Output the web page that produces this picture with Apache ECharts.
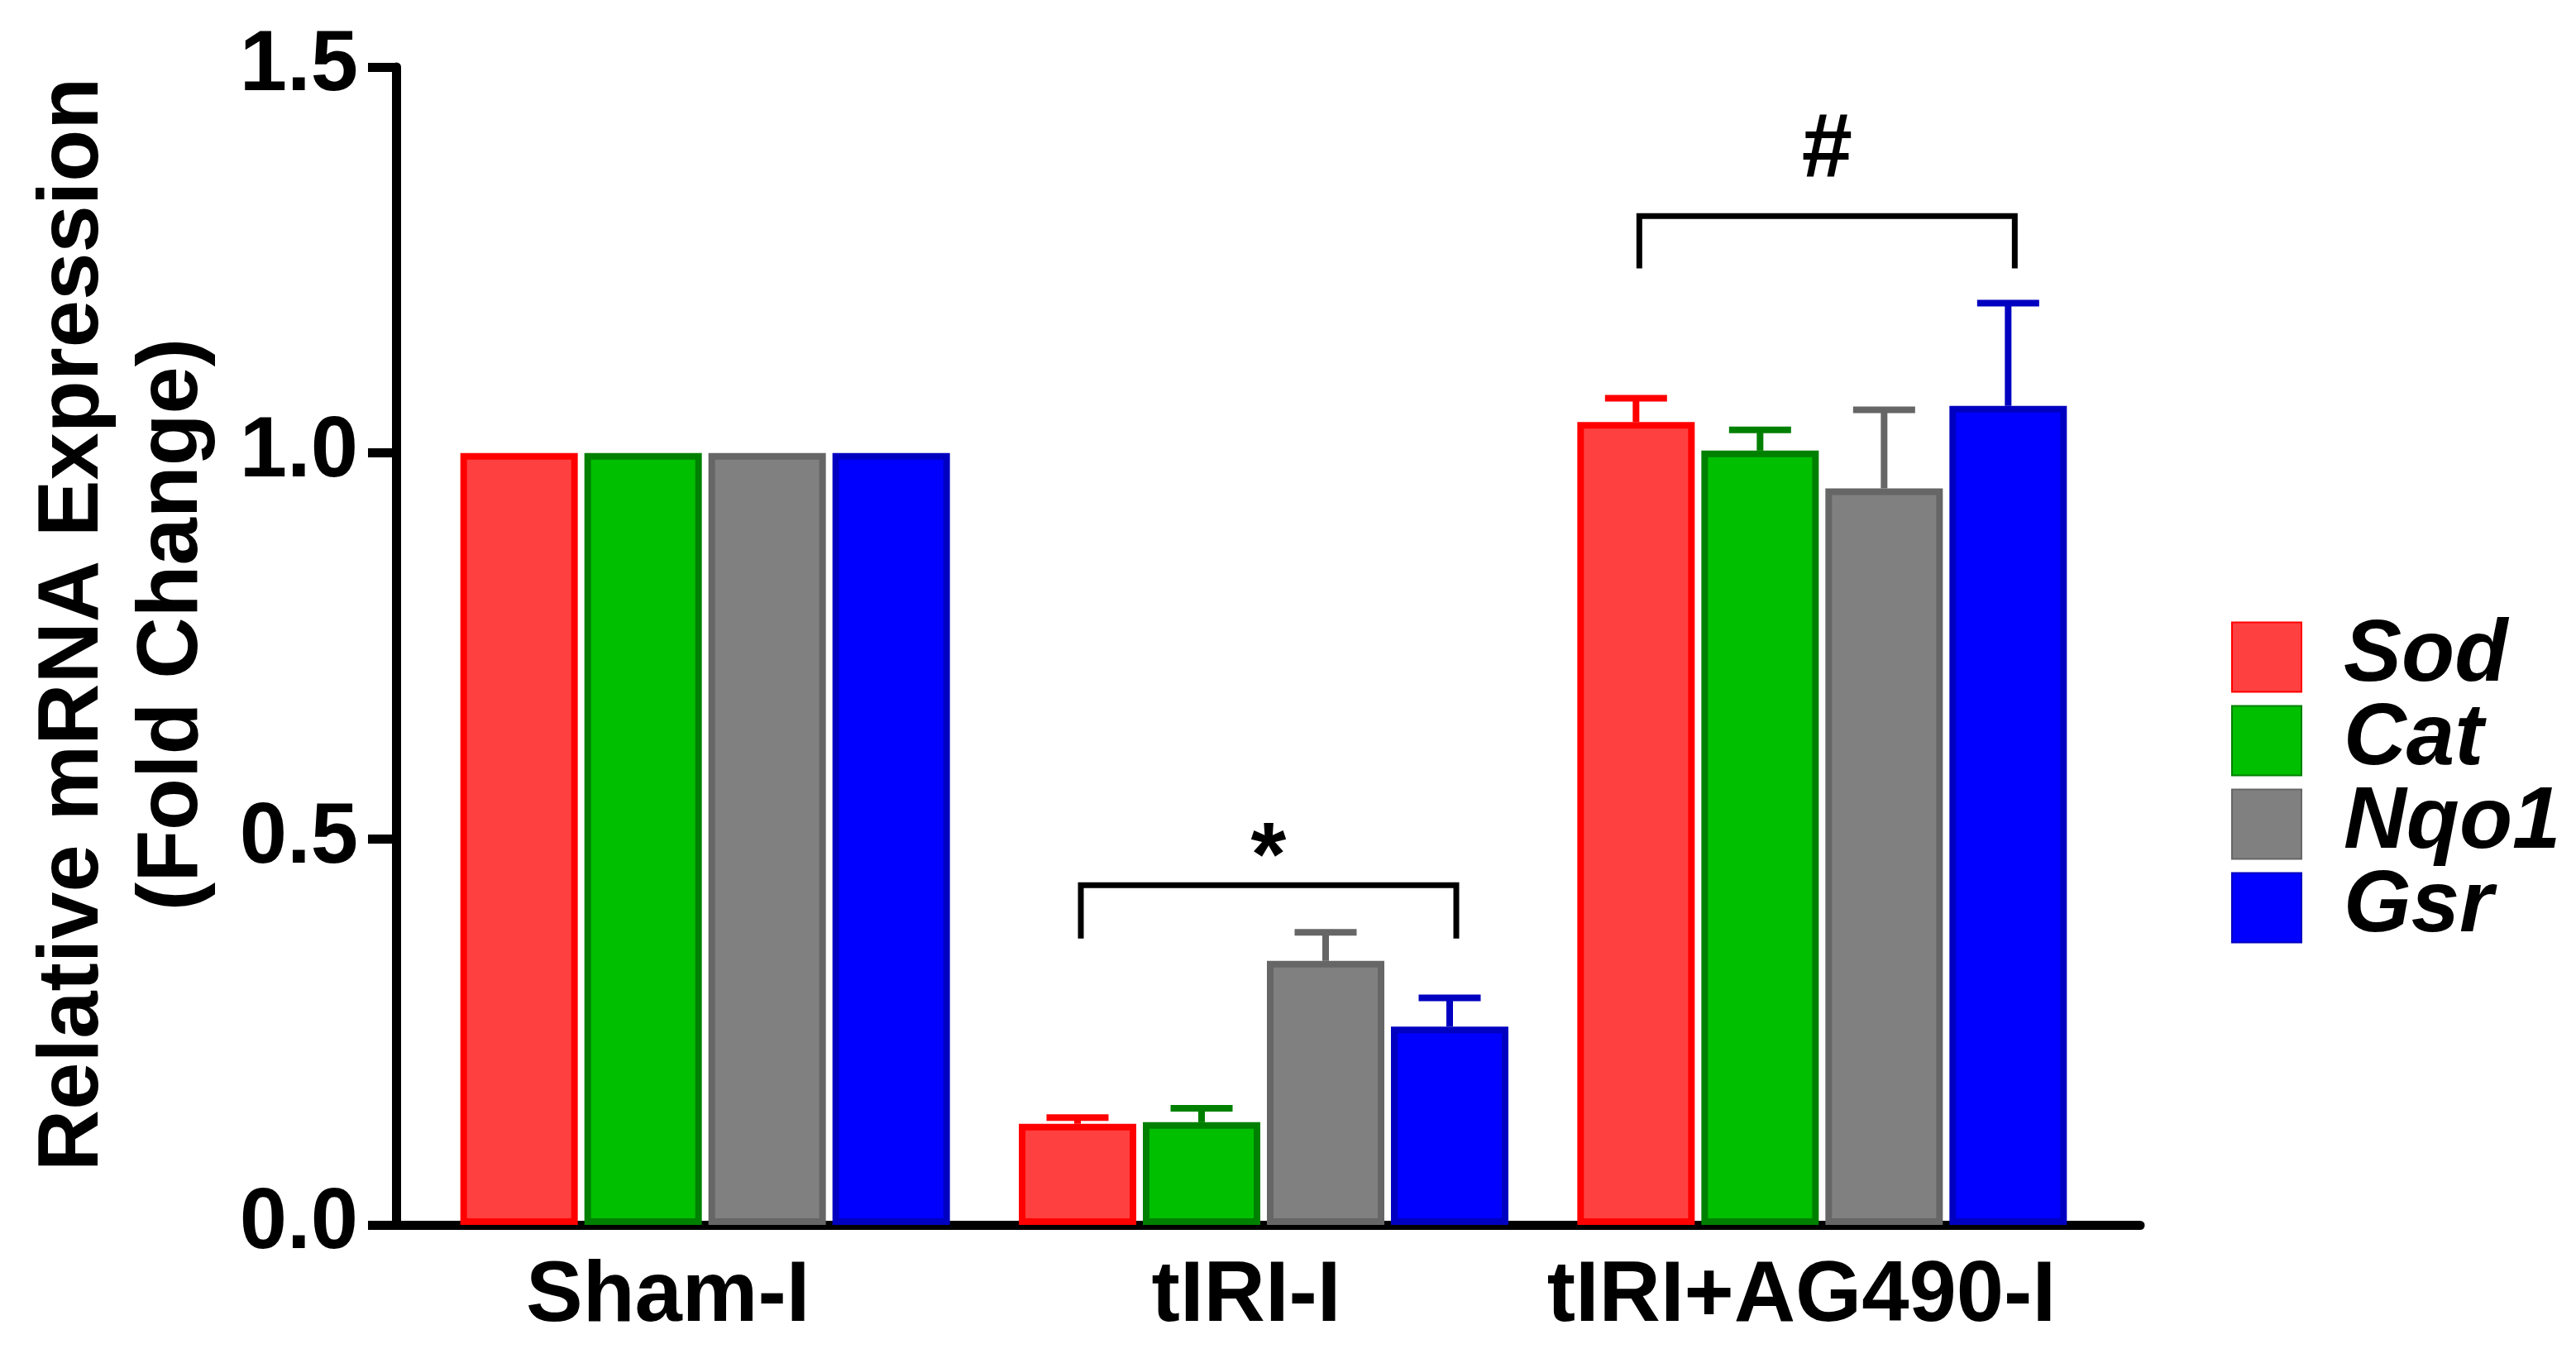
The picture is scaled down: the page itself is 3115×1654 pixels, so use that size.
<!DOCTYPE html>
<html>
<head>
<meta charset="utf-8">
<script src="https://cdn.jsdelivr.net/npm/echarts@6/dist/echarts.min.js"></script>
<style>
  html, body { margin: 0; padding: 0; background: #fff; }
  #chart { width: 3115px; height: 1654px; }
</style>
</head>
<body>
<div id="chart"></div>
<script>
// data
var categories = ['Sham-I', 'tIRI-I', 'tIRI+AG490-I'];
var genes = ['Sod', 'Cat', 'Nqo1', 'Gsr'];
var sodMean = [1.0, 0.131, 1.040];
var sodErr = [0, 0.008, 0.031];
var catMean = [1.0, 0.133, 1.003];
var catErr = [0, 0.018, 0.027];
var nqo1Mean = [1.0, 0.342, 0.954];
var nqo1Err = [0, 0.037, 0.102];
var gsrMean = [1.0, 0.257, 1.061];
var gsrErr = [0, 0.037, 0.133];
var yTicks = [0, 0.5, 1.0, 1.5];

// significance brackets (per category)
var bracketTop = [null, 0.440, 1.307];
var bracketFoot = [null, 0.371, 1.239];
var bracketMark = ['', '*', '#'];
var markY = [null, 0.4725, 1.391];

var FONT = '"Liberation Sans", Arial, Helvetica, sans-serif';
var fills = ['#ff4040', '#00bf00', '#808080', '#0000ff'];
var borders = ['#ff0000', '#008000', '#666666', '#0000c0'];
var means = [sodMean, catMean, nqo1Mean, gsrMean];
var errs = [sodErr, catErr, nqo1Err, gsrErr];

var SLOT = 150;     // bar slot incl. border
var BORDER = 8;

var myChart = echarts.init(document.getElementById('chart'));

function errRender(k) {
	return function (params, api) {
		var e = api.value(2);
		if (!e) return null;
		var base = api.coord([api.value(0), api.value(1)]);
		var tip = api.coord([api.value(0), api.value(1) + e]);
		var x = base[0] + (k - 1.5) * SLOT;
		var half = SLOT / 4;
		var st = { stroke: borders[k], lineWidth: 8 };
		return {
			type: 'group',
			children: [
				{ type: 'line', shape: { x1: x, y1: base[1], x2: x, y2: tip[1] }, style: st },
				{ type: 'line', shape: { x1: x - half, y1: tip[1], x2: x + half, y2: tip[1] }, style: st }
			]
		};
	};
}

var series = [];
genes.forEach(function (g, k) {
	series.push({
		name: g,
		type: 'bar',
		xAxisIndex: 1,
		yAxisIndex: 1,
		barWidth: SLOT - BORDER,
		barGap: (BORDER / (SLOT - BORDER) * 100).toFixed(2) + '%',
		data: means[k],
		itemStyle: { color: fills[k], borderColor: borders[k], borderWidth: BORDER },
		emphasis: { disabled: true },
		z: 2
	});
});
genes.forEach(function (g, k) {
	series.push({
		type: 'custom',
		xAxisIndex: 1,
		yAxisIndex: 1,
		data: categories.map(function (c, i) { return [i, means[k][i], errs[k][i]]; }),
		renderItem: errRender(k),
		z: 3
	});
});
series.push({
	type: 'custom',
	xAxisIndex: 1,
	yAxisIndex: 1,
	data: categories.map(function (c, i) { return [i, bracketTop[i], bracketFoot[i], markY[i]]; }),
	renderItem: function (params, api) {
		var i = params.dataIndex;
		if (bracketTop[i] == null) return null;
		var top = api.coord([i, bracketTop[i]]);
		var foot = api.coord([i, bracketFoot[i]]);
		var mark = api.coord([i, markY[i]]);
		var xl = top[0] - 1.5 * SLOT + 4;
		var xr = top[0] + 1.5 * SLOT + 8;
		return {
			type: 'group',
			children: [
				{
					type: 'polyline',
					shape: { points: [[xl, foot[1]], [xl, top[1]], [xr, top[1]], [xr, foot[1]]] },
					style: { stroke: '#000', lineWidth: 7, fill: null }
				},
				{
					type: 'text',
					x: (xl + xr) / 2, y: mark[1],
					style: {
						text: bracketMark[i], fill: '#000',
						font: 'bold 110px ' + FONT,
						align: 'center', verticalAlign: 'middle'
					}
				}
			]
		};
	},
	z: 4
});

var labelPad = { 'Sham-I': 90, 'tIRI-I': 42, 'tIRI+AG490-I': 50 };
var rich = {};
categories.forEach(function (c, i) {
	rich['c' + i] = { fontSize: 103, fontWeight: 'bold', fontFamily: FONT, color: '#000', padding: [0, labelPad[c], 0, 0] };
});

var option = {
	backgroundColor: '#fff',
	animation: false,
	grid: [
		{ left: 479, right: 527, top: 81, bottom: 173 },
		{ left: 515, width: 2026, top: 81, bottom: 173 }
	],
	legend: {
		orient: 'vertical',
		left: 2693,
		top: 737,
		itemWidth: 84,
		itemHeight: 84,
		itemGap: -4,
		icon: 'rect',
		data: genes,
		textStyle: {
			fontSize: 105, fontWeight: 'bold', fontStyle: 'italic', fontFamily: FONT,
			color: '#000', padding: [0, 0, 0, 46]
		}
	},
	xAxis: [
		{
			gridIndex: 0, type: 'value', min: 0, max: 1,
			axisLine: { show: true, lineStyle: { color: '#000', width: 11 } },
			axisTick: { show: false }, axisLabel: { show: false }, splitLine: { show: false }
		},
		{
			gridIndex: 1, type: 'category', data: categories,
			axisLine: { show: false }, axisTick: { show: false },
			axisLabel: {
				margin: 36,
				formatter: function (v) { return '{c' + categories.indexOf(v) + '|' + v + '}'; },
				rich: rich
			}
		}
	],
	yAxis: [
		{
			gridIndex: 0, type: 'value', min: yTicks[0], max: yTicks[yTicks.length - 1], interval: 0.5,
			axisLine: { show: true, lineStyle: { color: '#000', width: 11 } },
			axisTick: { show: true, length: 34, lineStyle: { color: '#000', width: 11 } },
			axisLabel: {
				margin: 46, fontSize: 103, fontWeight: 'bold', fontFamily: FONT, color: '#000',
				formatter: function (v) { return v.toFixed(1); }
			},
			splitLine: { show: false }
		},
		{
			gridIndex: 1, type: 'value', min: yTicks[0], max: yTicks[yTicks.length - 1], interval: 0.5,
			show: false
		}
	],
	graphic: [
		{
			type: 'text',
			x: 150, y: 755,
			rotation: Math.PI / 2,
			style: {
				text: 'Relative mRNA Expression\n(Fold Change)',
				font: 'bold 103px ' + FONT,
				lineHeight: 120,
				fill: '#000',
				align: 'center',
				verticalAlign: 'middle'
			}
		}
	],
	series: series
};

myChart.setOption(option);
</script>
</body>
</html>
